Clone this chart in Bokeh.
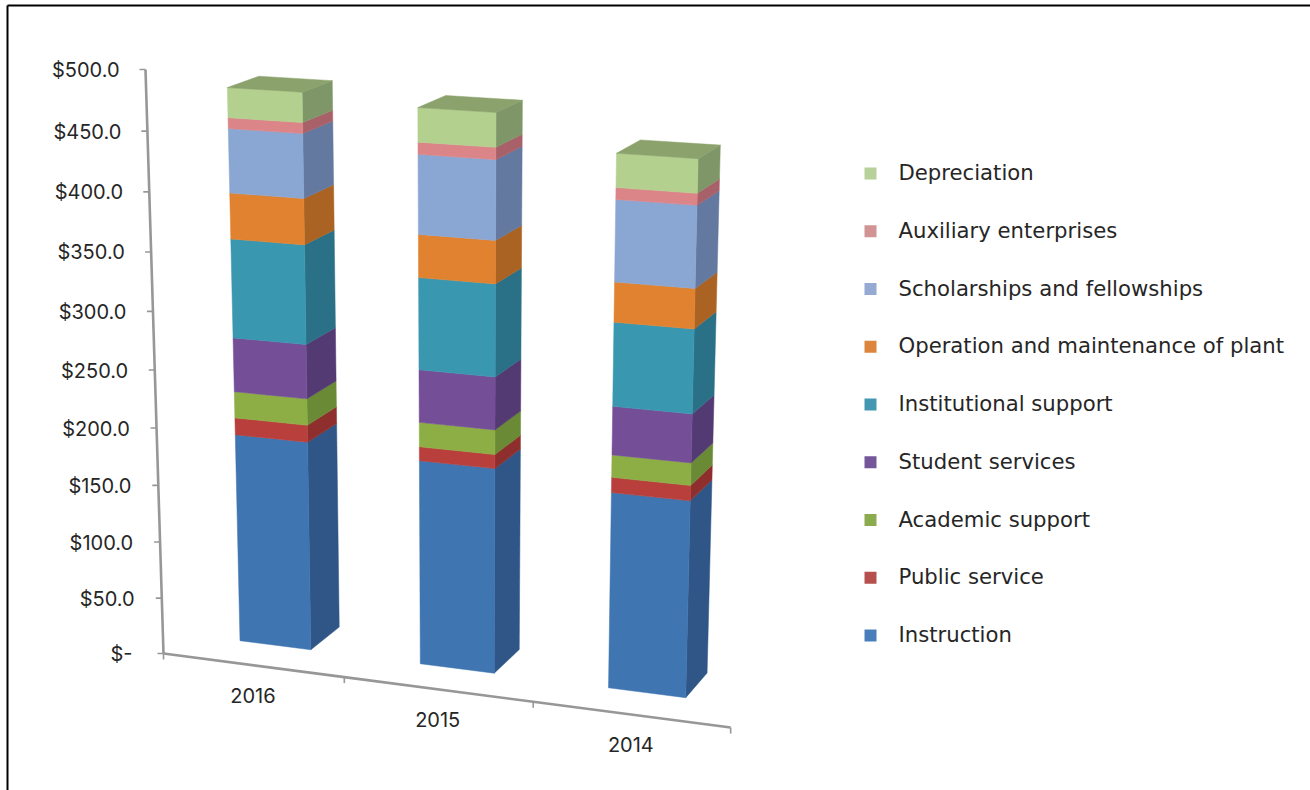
from bokeh.plotting import figure
from bokeh.models import Range1d
from bokeh.core.properties import value
from bokeh.embed import file_html
from bokeh.resources import INLINE

# ---- data ----
categories = ["2016", "2015", "2014"]
instruction = [185, 179, 169]
public_service = [14.8, 12, 12.9]
academic_support = [22.9, 21, 18.9]
student_services = [46.7, 44.8, 40.7]
institutional_support = [84.5, 77.5, 69.6]
operation_maintenance = [38.7, 35.8, 32.8]
scholarships = [53.7, 65.6, 66.6]
auxiliary = [9, 9.9, 9.5]
depreciation = [24.8, 27.9, 27.3]

series_names = ["Instruction", "Public service", "Academic support", "Student services",
                "Institutional support", "Operation and maintenance of plant",
                "Scholarships and fellowships", "Auxiliary enterprises", "Depreciation"]
series_values = [instruction, public_service, academic_support, student_services,
                 institutional_support, operation_maintenance, scholarships, auxiliary, depreciation]
front_colors = ["#3f75b0", "#b83f3c", "#8dae45", "#744f98", "#3a97b0",
                "#e0822f", "#8aa6d3", "#db8588", "#b4d08e"]
side_colors = ["#2f5686", "#8f2f2d", "#6b8a35", "#533a72", "#2a7087",
               "#aa6322", "#64799f", "#a96169", "#7f9768"]
legend_colors = ["#4a7ebb", "#b5504c", "#8cab4f", "#75569a", "#4497b0",
                 "#db853d", "#95a9d3", "#d29394", "#b8d19a"]
top_color = "#8ba26c"
value_ticks = [0, 50, 100, 150, 200, 250, 300, 350, 400, 450, 500]
value_tick_labels = ["$-", "$50.0", "$100.0", "$150.0", "$200.0", "$250.0",
                     "$300.0", "$350.0", "$400.0", "$450.0", "$500.0"]

TICK_FONT = "Inter"
LEGEND_FONT = "DejaVu Sans"
TEXT = "#262626"
AXIS = "#979797"

# ---- the 3-D camera: category position, depth, value -> page pixels ----
def project(cat, depth, val):
    w = 1 - 0.0213 * cat + 0.022 * depth - 1.1316e-4 * val
    u = 163 + 173.5 * cat + 36.5 * depth - 0.0524 * val
    v = 653 + 9.2 * cat - 9.46 * depth - 1.1757 * val
    return u / w, v / w

BAR_LEFT, BAR_RIGHT = 0.285, 0.683
DEPTH_FRONT, DEPTH_BACK = 0.82, 1.80

p = figure(width=1310, height=790, x_range=Range1d(0, 1310), y_range=Range1d(790, 0),
           output_backend="svg", toolbar_location=None, min_border=0,
           x_axis_location=None, y_axis_location=None, outline_line_color=None,
           styles={"position": "absolute", "left": "0", "top": "0"})
p.grid.visible = False

# outer frame of the picture
p.segment([7, 7], [5, 5], [7, 1310], [790, 5], line_color="#000000", line_width=2)

# value axis
x0, y0 = project(0, 0, value_ticks[0])
x1, y1 = project(0, 0, value_ticks[-1])
p.line([x0, x1], [y0, y1], line_color=AXIS, line_width=2.6)
tick_xy = [project(0, 0, t) for t in value_ticks]
p.segment([x - 6 for x, _ in tick_xy], [y for _, y in tick_xy],
          [x for x, _ in tick_xy], [y for _, y in tick_xy], line_color=AXIS, line_width=1.6)
label_x = [x - 31 if t == 0 else x - 26 - (y - tick_xy[-1][1]) * 0.002
           for t, (x, y) in zip(value_ticks, tick_xy)]
p.text(label_x, [y + 0.5 for _, y in tick_xy],
       text=value_tick_labels, text_font=value(TICK_FONT), text_font_size="20px", text_color=TEXT,
       text_align="right", text_baseline="middle")

# category axis
cat_pts = [project(c, 0, 0) for c in range(len(categories) + 1)]
p.line([x for x, _ in cat_pts], [y for _, y in cat_pts], line_color=AXIS, line_width=2.6)
p.segment([x for x, _ in cat_pts], [y for _, y in cat_pts],
          [x for x, _ in cat_pts], [y + 6 for _, y in cat_pts], line_color=AXIS, line_width=1.6)
label_pts = [project(i + 0.5, 0, 0) for i in range(len(categories))]
p.text([x for x, _ in label_pts], [y + 30 for _, y in label_pts], text=categories,
       text_font=value(TICK_FONT), text_font_size="20px", text_color=TEXT,
       text_align="center", text_baseline="middle")

# stacked columns, built face by face
for i in range(len(categories)):
    xl, xr = i + BAR_LEFT, i + BAR_RIGHT
    base = 0
    for s, vals in enumerate(series_values):
        top = base + vals[i]
        fl0, fr0 = project(xl, DEPTH_FRONT, base), project(xr, DEPTH_FRONT, base)
        fr1, fl1 = project(xr, DEPTH_FRONT, top), project(xl, DEPTH_FRONT, top)
        br0, br1 = project(xr, DEPTH_BACK, base), project(xr, DEPTH_BACK, top)
        front = [fl0, fr0, fr1, fl1]
        side = [fr0, br0, br1, fr1]
        p.patch([q[0] for q in side], [q[1] for q in side], fill_color=side_colors[s],
                line_color=side_colors[s], line_width=0.5)
        p.patch([q[0] for q in front], [q[1] for q in front], fill_color=front_colors[s],
                line_color=front_colors[s], line_width=0.5)
        base = top
    bl1 = project(xl, DEPTH_BACK, base)
    lid = [project(xl, DEPTH_FRONT, base), project(xr, DEPTH_FRONT, base),
           project(xr, DEPTH_BACK, base), bl1]
    p.patch([q[0] for q in lid], [q[1] for q in lid], fill_color=top_color,
            line_color=top_color, line_width=0.5)

# legend, top entry is the last series
LEG_TOP, LEG_STEP = 173, 57.75
order = list(range(len(series_names)))[::-1]
ly = [LEG_TOP + k * LEG_STEP for k in range(len(order))]
p.rect([870] * len(order), ly, width=12, height=12, width_units="screen", height_units="screen",
       fill_color=[legend_colors[s] for s in order], line_color=None)
p.text([898] * len(order), [y - 1 for y in ly], text=[series_names[s] for s in order],
       text_font=value(LEGEND_FONT), text_font_size="21.2px", text_color=TEXT,
       text_align="left", text_baseline="middle")

open("out.html", "w").write(file_html(p, INLINE))
